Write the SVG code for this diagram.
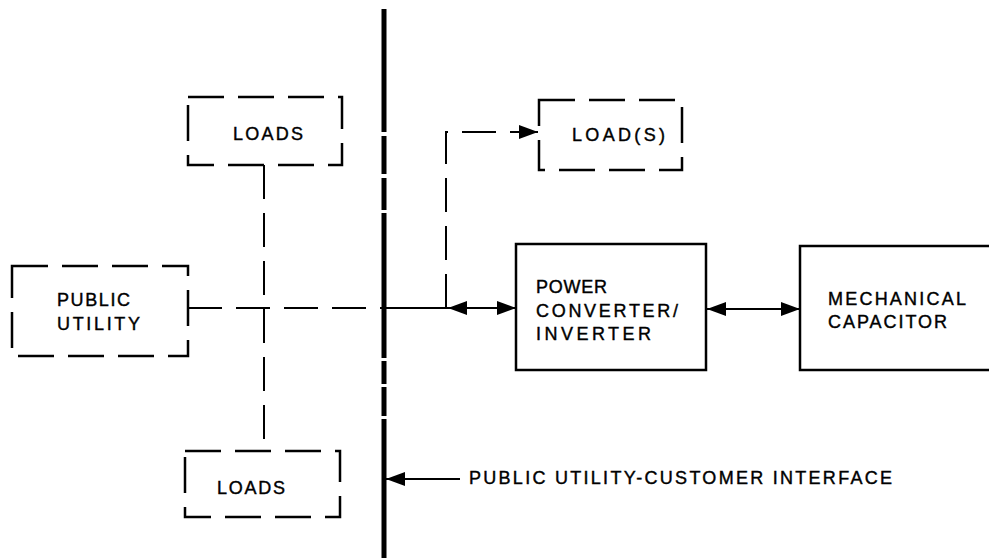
<svg xmlns="http://www.w3.org/2000/svg" width="989" height="558" viewBox="0 0 989 558">
<style>
.lbl{font-family:"Liberation Sans",Arial,sans-serif;font-size:18px;fill:#000;stroke:#000;stroke-width:0.4}
.dbox{fill:none;stroke:#000;stroke-width:2.5;stroke-dasharray:36 14}
.sbox{fill:none;stroke:#000;stroke-width:2.5}
.line{fill:none;stroke:#000;stroke-width:2}
.dline{fill:none;stroke:#000;stroke-width:2;stroke-dasharray:34 14}
</style>
<defs>
<marker id="ah" markerUnits="userSpaceOnUse" markerWidth="22" markerHeight="16" refX="19" refY="8" orient="auto">
<path d="M0,1 L19,8 L0,15 Z" fill="#000"/>
</marker>
</defs>
<rect width="989" height="558" fill="#fff"/>
<g id="interface-line">
<path d="M384,9 V132 M384,136 V174 M384,178 V210 M384,213 V358 M384,361 V384 M384,387 V416 M384,419 V558" stroke="#000" stroke-width="5" fill="none"/>
</g>
<g id="connectors">
<path class="dline" d="M188,308 H383"/>
<path class="line" d="M383,308 H448"/>
<path class="line" d="M468,308 H448" marker-end="url(#ah)"/>
<path class="line" d="M468,308 H516" marker-end="url(#ah)"/>
<path class="dline" d="M264,165 V450"/>
<path class="dline" d="M446,308 V132 H538" marker-end="url(#ah)"/>
<path class="line" d="M707,309 H800" marker-end="url(#ah)"/>
<path class="line" d="M800,309 H707" marker-end="url(#ah)"/>
<path class="line" d="M460,479 H386" marker-end="url(#ah)"/>
</g>
<g id="public-utility">
<rect class="dbox" x="12" y="266" width="176" height="90"/>
<text class="lbl" x="57" y="306" textLength="73" lengthAdjust="spacing">PUBLIC</text>
<text class="lbl" x="57" y="330" textLength="83" lengthAdjust="spacing">UTILITY</text>
</g>
<g id="loads-top">
<rect class="dbox" x="188" y="97" width="154" height="68"/>
<text class="lbl" x="233" y="140" textLength="70" lengthAdjust="spacing">LOADS</text>
</g>
<g id="loads-bottom">
<rect class="dbox" x="185" y="451" width="155" height="66"/>
<text class="lbl" x="217" y="494" textLength="68" lengthAdjust="spacing">LOADS</text>
</g>
<g id="loads-right">
<rect class="dbox" x="539" y="100" width="143" height="70"/>
<text class="lbl" x="572" y="141" textLength="93" lengthAdjust="spacing">LOAD(S)</text>
</g>
<g id="power-converter">
<rect class="sbox" x="516" y="244" width="190" height="126"/>
<text class="lbl" x="536" y="293" textLength="71" lengthAdjust="spacing">POWER</text>
<text class="lbl" x="536" y="317" textLength="142" lengthAdjust="spacing">CONVERTER/</text>
<text class="lbl" x="536" y="340" textLength="115" lengthAdjust="spacing">INVERTER</text>
</g>
<g id="mechanical-capacitor">
<rect class="sbox" x="800" y="246" width="200" height="124"/>
<text class="lbl" x="828" y="305" textLength="138" lengthAdjust="spacing">MECHANICAL</text>
<text class="lbl" x="828" y="328" textLength="119" lengthAdjust="spacing">CAPACITOR</text>
</g>
<g id="interface-label">
<text class="lbl" x="469" y="484" textLength="423" lengthAdjust="spacing">PUBLIC UTILITY-CUSTOMER INTERFACE</text>
</g>
</svg>
